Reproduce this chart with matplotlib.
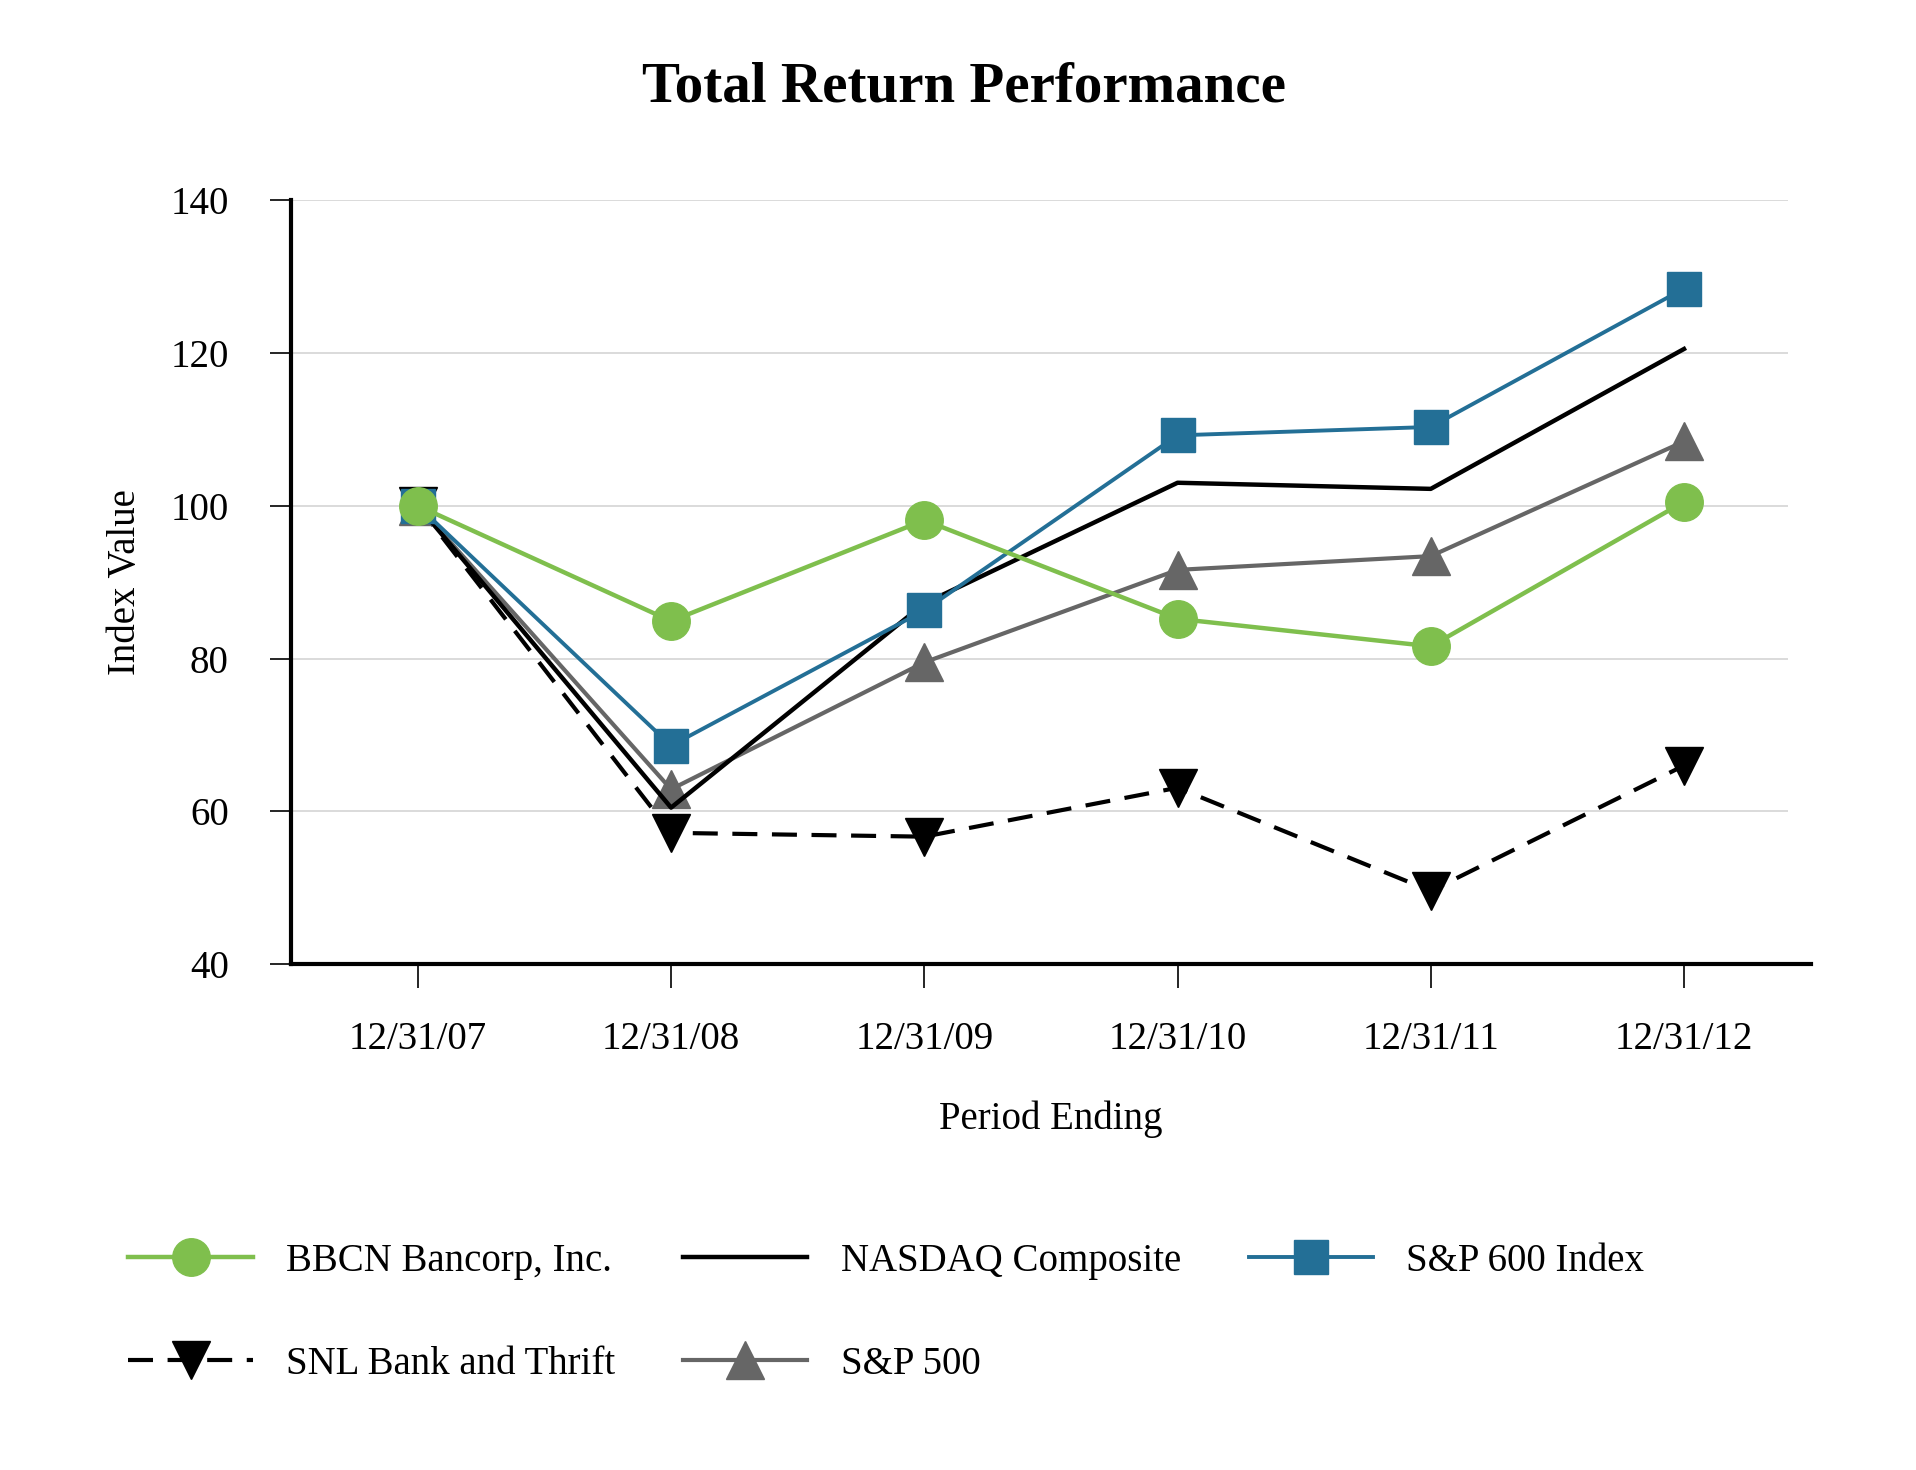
import matplotlib
matplotlib.use('Agg')
import matplotlib.pyplot as plt
import numpy as np

# period labels and index values
periods = ['12/31/07', '12/31/08', '12/31/09', '12/31/10', '12/31/11', '12/31/12']
bbcn = [100.0, 84.9, 98.1, 85.2, 81.6, 100.5]
nasdaq = [100.0, 60.5, 87.2, 103.0, 102.2, 120.5]
sp600 = [100.0, 68.6, 86.3, 109.2, 110.3, 128.4]
snl = [100.0, 57.2, 56.7, 63.1, 49.6, 66.0]
sp500 = [100.0, 62.9, 79.5, 91.6, 93.4, 108.4]
y_ticks = [40, 60, 80, 100, 120, 140]

GREEN = '#7fbf4d'
BLUE = '#236f96'
GRAY = '#666666'

plt.rcParams['font.family'] = ['Liberation Serif', 'DejaVu Serif']

fig = plt.figure(figsize=(19.16, 14.70), dpi=100)
ax = fig.add_axes([0.152, 0.344, 0.793, 0.520])

x = np.arange(len(periods))

l_snl, = ax.plot(x, snl, color='black', lw=3, ls=(0, (6, 3.5)), marker='v',
                 markersize=27, label='SNL Bank and Thrift', zorder=3)
l_500, = ax.plot(x, sp500, color=GRAY, lw=3, marker='^', markersize=27,
                 label='S&P 500', zorder=4)
l_nas, = ax.plot(x, nasdaq, color='black', lw=3.2, label='NASDAQ Composite', zorder=5)
l_600, = ax.plot(x, sp600, color=BLUE, lw=2.8, marker='s', markersize=25,
                 label='S&P 600 Index', zorder=6)
l_bbcn, = ax.plot(x, bbcn, color=GREEN, lw=3.2, marker='o', markersize=27,
                  label='BBCN Bancorp, Inc.', zorder=7)

ax.set_xlim(-0.5, 5.5)
ax.set_ylim(40, 140)
ax.set_yticks(y_ticks)
ax.set_xticks(x)
ax.set_xticklabels(periods)

ax.hlines(y_ticks, 0, 0.985, transform=ax.get_yaxis_transform(),
          color='#d4d4d4', lw=1.2, zorder=0)

for s in ['top', 'right']:
    ax.spines[s].set_visible(False)
for s in ['left', 'bottom']:
    ax.spines[s].set_linewidth(3)

ax.tick_params(axis='y', length=15, width=1.2, pad=30, labelsize=28)
ax.tick_params(axis='x', length=17, width=1.2, pad=24, labelsize=28)

ax.set_ylabel('Index Value', fontsize=28)
ax.yaxis.set_label_coords(-0.097, 0.5)
ax.set_xlabel('Period Ending', fontsize=28)
ax.xaxis.set_label_coords(0.5, -0.178)

fig.text(0.503, 1 - 88 / 1470, 'Total Return Performance', ha='center', va='center',
         fontsize=41, fontweight='bold')

# column-major order so the legend reads row by row
handles = [l_bbcn, l_snl, l_nas, l_500, l_600]
fig.legend(handles=handles, labels=[h.get_label() for h in handles],
           loc='center left', bbox_to_anchor=(0.067, 0.107), ncol=3,
           frameon=False, fontsize=28, numpoints=1, handlelength=3.2,
           handletextpad=0.85, columnspacing=1.75, labelspacing=1.7,
           borderpad=0, borderaxespad=0)

fig.savefig('out.png', dpi=100)
